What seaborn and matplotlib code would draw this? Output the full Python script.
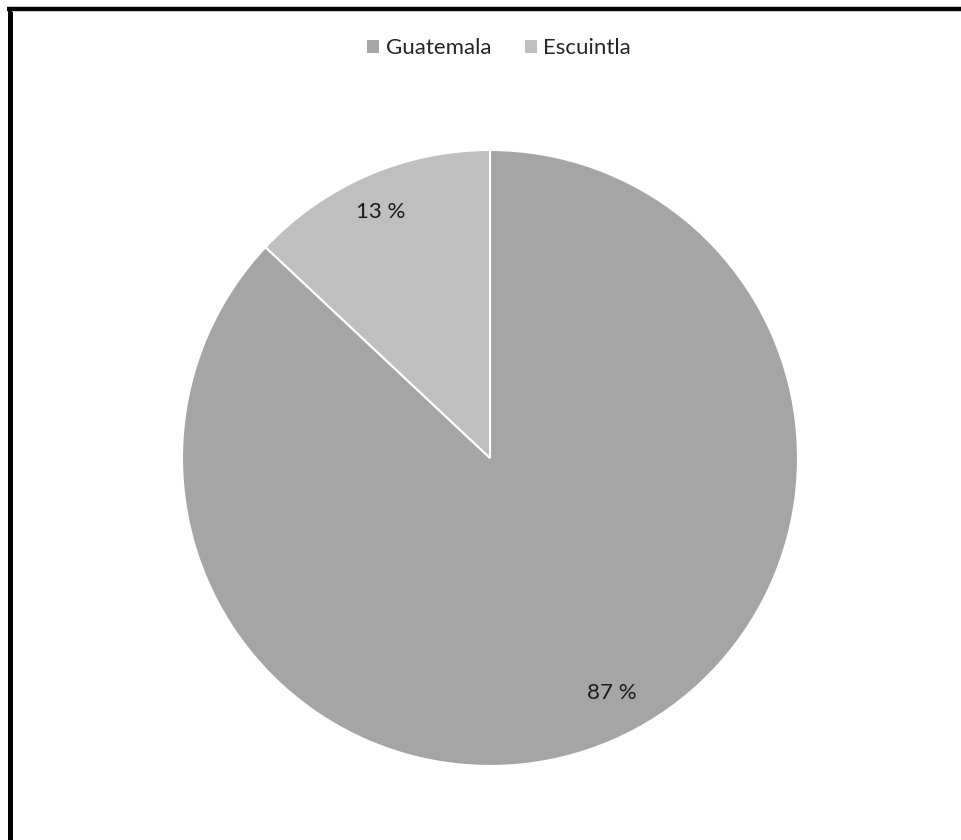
import matplotlib
matplotlib.use("Agg")
import matplotlib.pyplot as plt
import seaborn as sns
import numpy as np
from matplotlib.patches import Patch
from matplotlib.lines import Line2D

categories = ["Guatemala", "Escuintla"]
shares = [87, 13]
pct_labels = ["87 %", "13 %"]
colors = ["#a5a5a5", "#bfbfbf"]

sns.set_theme(style="white")
plt.rcParams["font.family"] = ["Lato", "DejaVu Sans"]

W, H = 962, 840
fig = plt.figure(figsize=(W / 100, H / 100), dpi=100)
fig.patch.set_facecolor("white")

cx, cy, r = 490, 458, 308
ax = fig.add_axes([(cx - r) / W, (H - cy - r) / H, 2 * r / W, 2 * r / H])

wedges, _ = ax.pie(
    shares,
    colors=colors,
    startangle=90,
    counterclock=False,
    radius=1,
    wedgeprops=dict(edgecolor="white", linewidth=1.5),
)
# label placement: radial distance and small angular nudge (degrees) per wedge
label_dist = [0.86, 0.875]
label_nudge = [4.0, 0.5]
for w, lab, d, nudge in zip(wedges, pct_labels, label_dist, label_nudge):
    ang = np.deg2rad((w.theta1 + w.theta2) / 2 + nudge)
    ax.text(d * np.cos(ang), d * np.sin(ang), lab,
            ha="center", va="center", fontsize=16, color="#1a1a1a")
ax.set_xlim(-1, 1)
ax.set_ylim(-1, 1)
ax.set_aspect("equal")
ax.axis("off")

handles = [Patch(facecolor=c, edgecolor="none") for c in colors]
fig.legend(handles, categories, loc="center", bbox_to_anchor=(499 / W, 1 - 48.5 / H),
           ncol=2, frameon=False, fontsize=16, handlelength=0.55, handleheight=0.55,
           handletextpad=0.3, columnspacing=1.5)

# frame on the top and left edges
fig.add_artist(Line2D([7 / W, 1], [1 - 8.5 / H, 1 - 8.5 / H], color="black", lw=3.2,
                      transform=fig.transFigure, solid_capstyle="butt"))
fig.add_artist(Line2D([9.5 / W, 9.5 / W], [0, 1 - 7 / H], color="black", lw=3.6,
                      transform=fig.transFigure, solid_capstyle="butt"))
fig.add_artist(Line2D([12 / W, 1], [1 - 11 / H, 1 - 11 / H], color="#c8c8c8", lw=0.8,
                      transform=fig.transFigure))

fig.savefig("out.png", dpi=100)
